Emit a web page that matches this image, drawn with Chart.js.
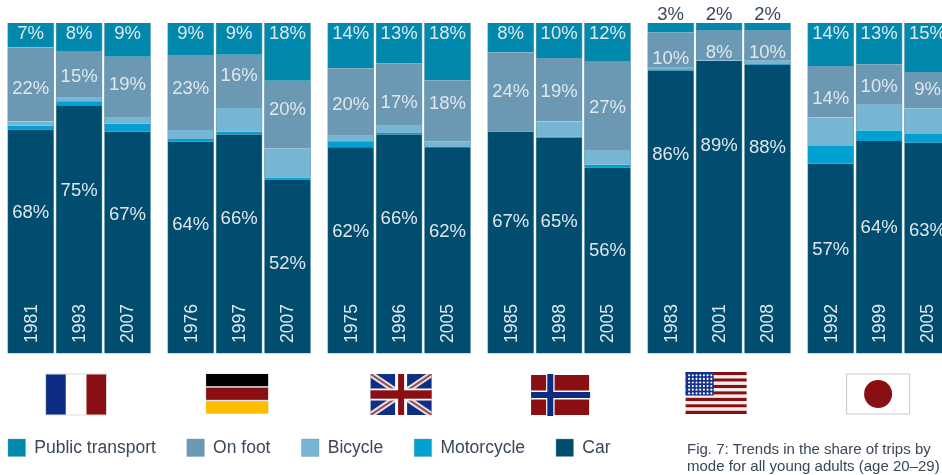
<!DOCTYPE html>
<html><head><meta charset="utf-8">
<style>html,body{margin:0;padding:0;background:#fff;overflow:hidden}canvas{display:block}</style>
<script src="https://cdn.jsdelivr.net/npm/chart.js@4"></script>
</head><body><canvas id="c" width="942" height="475"></canvas>
<script>
// Data (share of trips, %)
const countries = ['France','Germany','UK','Norway','USA','Japan'];
const years = ['1981','1993','2007','1976','1997','2007','1975','1996','2005','1985','1998','2005','1983','2001','2008','1992','1999','2005'];
const publicTransport = [7.4,8.7,10.2, 9.7,9.6,17.5, 13.7,12.2,17.3, 8.9,10.6,11.5, 2.9,2.1,2.1, 13,12.5,14.8];
const onFoot     = [22.4,13.9,18.5, 22.7,16.1,20.4, 20.4,18.9,18.5, 24,19.2,26.9, 10.4,9.2,9.3, 15.6,12.2,11];
const bicycle    = [1.3,1.1,1.8, 2.7,7.2,8.9, 1.7,2.2,1.8, 0,4.6,4.5, 0.7,0.2,1, 8.6,7.8,7.6];
const motorcycle = [1.1,1.4,2.4, 0.8,0.8,0.6, 1.8,0.4,0, 0,0.3,0.8, 0.4,0,0.2, 5.4,3.2,2.8];
const car        = [67.8,74.9,67.1, 64.1,66.3,52.6, 62.4,66.3,62.4, 67.1,65.3,56.3, 85.6,88.5,87.4, 57.4,64.3,63.8];
// Printed labels
const publicTransportLabels = [7,8,9, 9,9,18, 14,13,18, 8,10,12, 3,2,2, 14,13,15];
const onFootLabels = [22,15,19, 23,16,20, 20,17,18, 24,19,27, 10,8,10, 14,10,9];
const carLabels = [68,75,67, 64,66,52, 62,66,62, 67,65,56, 86,89,88, 57,64,63];
// Where the printed labels sit relative to their segments
const footLabelNudge = [4,1,-3, -4,-6,-5, 2,7.5,-8, -1,1,2, 8,7,7, 6,2,-1];
const carLabelDrop = [83,84,82.5, 82.5,84,83.5, 83.5,83.5,83.5, 89,84,82.5, 83.5,84,82.5, 85,86.5,88];

// Layout constants
const BAR_SLOT = 48.4, GROUP_STEP = 160 / BAR_SLOT, FIRST_CENTER = 30.7;
const slots = years.map((_, i) => Math.floor(i / 3) * GROUP_STEP + i % 3);
const FONT = '"Liberation Sans", Arial, sans-serif';
const LIGHT = '#dfe7ec', DARK = '#3a4757', TEXT_DY = 0.7;
const series = [
  ['Car', car, '#004d6f'],
  ['Motorcycle', motorcycle, '#00a0d0'],
  ['Bicycle', bicycle, '#76b5d3'],
  ['On foot', onFoot, '#6b99b3'],
  ['Public transport', publicTransport, '#0089ad'],
];

const flagDraw = {
  France(g, x, y, w, h) {
    g.fillStyle = '#fff'; g.fillRect(x, y, w, h);
    g.fillStyle = '#0c2c84'; g.fillRect(x, y, w * .33, h);
    g.fillStyle = '#8a0f12'; g.fillRect(x + w * .67, y, w * .33, h);
    g.strokeStyle = '#ddd'; g.strokeRect(x, y, w, h);
  },
  Germany(g, x, y, w, h) {
    const b = h / 3;
    g.fillStyle = '#e4e4e4'; g.fillRect(x - .5, y - .5, w + 1, h + 1);
    g.fillStyle = '#000'; g.fillRect(x, y, w, b - 1);
    g.fillStyle = '#8a0f12'; g.fillRect(x, y + b + .5, w, b - 1);
    g.fillStyle = '#fdbe00'; g.fillRect(x, y + 2 * b + 1, w, b - 1);
  },
  UK(g, x, y, w, h) {
    g.fillStyle = '#0f2f85'; g.fillRect(x, y, w, h);
    g.save(); g.beginPath(); g.rect(x, y, w, h); g.clip();
    const diag = (c, lw) => { g.strokeStyle = c; g.lineWidth = lw; g.beginPath(); g.moveTo(x, y); g.lineTo(x + w, y + h); g.moveTo(x + w, y); g.lineTo(x, y + h); g.stroke(); };
    diag('#e8dfe0', 6); diag('#9b4b50', 2);
    g.restore();
    g.fillStyle = '#fff'; g.fillRect(x + w / 2 - 6, y, 12, h); g.fillRect(x, y + h / 2 - 6, w, 12);
    g.fillStyle = '#8a0f12'; g.fillRect(x + w / 2 - 3, y, 6, h); g.fillRect(x, y + h / 2 - 4.2, w, 8.4);
  },
  Norway(g, x, y, w, h) {
    g.fillStyle = '#8a0f12'; g.fillRect(x, y, w, h);
    g.fillStyle = '#fff'; g.fillRect(x + 15, y, 8.5, h); g.fillRect(x, y + h / 2 - 4.5, w, 9);
    g.fillStyle = '#0c2c84'; g.fillRect(x + 16.2, y - 1, 6, h + 2); g.fillRect(x, y + h / 2 - 3, w + 1, 6);
  },
  USA(g, x, y, w, h) {
    const n = 13, s = h / n;
    for (let i = 0; i < n; i++) { g.fillStyle = i % 2 ? '#f3eded' : '#8a0f12'; g.fillRect(x, y + i * s, w, s); }
    g.fillStyle = '#12318a'; g.fillRect(x, y, w * .46, h * .56);
    g.fillStyle = '#fff';
    for (let r = 0; r < 6; r++) for (let c = 0; c < 7; c++) { g.beginPath(); g.arc(x + 3.5 + c * 3.7, y + 3.3 + r * 3.6, 1.1, 0, 7); g.fill(); }
  },
  Japan(g, x, y, w, h) {
    g.fillStyle = '#fff'; g.fillRect(x, y, w, h);
    g.strokeStyle = '#c9c9c9'; g.lineWidth = 1; g.strokeRect(x, y, w, h);
    g.fillStyle = '#8a0f12'; g.beginPath(); g.arc(x + w / 2, y + h / 2, 14, 0, 7); g.fill();
  },
};
const flagBoxes = { France:[-3,61,374,41], Germany:[-2,62,374,39.5], UK:[2,61,374,41], Norway:[1,58,375,40], USA:[-3,61,372,42], Japan:[-1,63,374,40] };

const annotate = {
  id: 'annotate',
  afterLayout(chart) {
    // legend row sits in the strip under the flags
    chart.legend.left = 8 - chart.options.plugins.legend.labels.padding;
    chart.legend.top = 439 - chart.options.plugins.legend.labels.padding;
  },
  afterDatasetsDraw(chart) {
    const g = chart.ctx, carEls = chart.getDatasetMeta(0).data, footEls = chart.getDatasetMeta(3).data, ptEls = chart.getDatasetMeta(4).data;
    g.save();
    g.textAlign = 'center'; g.textBaseline = 'middle';
    years.forEach((_, i) => {
      const pt = ptEls[i], foot = footEls[i], c = carEls[i];
      g.font = '18.5px ' + FONT;
      if (publicTransportLabels[i] >= 5) { g.fillStyle = LIGHT; g.fillText(publicTransportLabels[i] + '%', pt.x, pt.y + 10.5 + TEXT_DY); }
      else { g.fillStyle = DARK; g.fillText(publicTransportLabels[i] + '%', pt.x, pt.y - 9 + TEXT_DY); }
      g.fillStyle = LIGHT;
      g.fillText(onFootLabels[i] + '%', foot.x, (foot.y + foot.base) / 2 + footLabelNudge[i] + TEXT_DY);
      g.fillText(carLabels[i] + '%', c.x, c.y + carLabelDrop[i] + TEXT_DY);
      g.save();
      g.font = '17.5px ' + FONT;
      g.translate(c.x + 1, c.base - 10.5); g.rotate(-Math.PI / 2);
      g.textAlign = 'left'; g.fillStyle = LIGHT;
      g.fillText(years[i], 0, 0);
      g.restore();
    });
    // flags
    const xs = chart.scales.x;
    countries.forEach((name, k) => {
      const [dx, w, y, h] = flagBoxes[name];
      const cx = xs.getPixelForValue(slots[k * 3 + 1]) + dx;
      g.save(); g.lineWidth = 1;
      flagDraw[name](g, cx - w / 2, y, w, h);
      g.restore();
    });
    // caption
    g.textAlign = 'left'; g.textBaseline = 'middle'; g.fillStyle = DARK; g.font = '15px ' + FONT;
    g.fillText('Fig. 7: Trends in the share of trips by', 687, 449.5);
    g.fillText('mode for all young adults (age 20\u201329)', 687, 466.5);
    g.restore();
  }
};

new Chart(document.getElementById('c'), {
  type: 'bar',
  data: {
    datasets: series.map(([label, values, color]) => ({
      label, backgroundColor: color,
      borderColor: '#6f9fb8', borderWidth: { left: 0.8, right: 0.8, top: 0, bottom: 0 },
      data: values.map((y, i) => ({ x: slots[i], y })),
      barThickness: 46.2,
    }))
  },
  plugins: [annotate],
  options: {
    responsive: false, animation: false, devicePixelRatio: 1,
    layout: { padding: { top: 23, left: 0, right: 0, bottom: 0 } },
    scales: {
      x: {
        type: 'linear', stacked: true, offset: false,
        min: -FIRST_CENTER / BAR_SLOT, max: (942 - FIRST_CENTER) / BAR_SLOT,
        grid: { display: false }, border: { display: false },
        ticks: { display: false },
        afterFit(s) { s.height = 63; },
      },
      y: { stacked: true, min: 0, max: 100, display: false },
    },
    plugins: {
      tooltip: { enabled: false },
      legend: {
        position: 'bottom', align: 'start', reverse: true,
        labels: { boxWidth: 17.5, boxHeight: 17.5, padding: 31, color: DARK, font: { family: FONT, size: 17.5 } },
      },
    },
  },
});
</script>
</body></html>
